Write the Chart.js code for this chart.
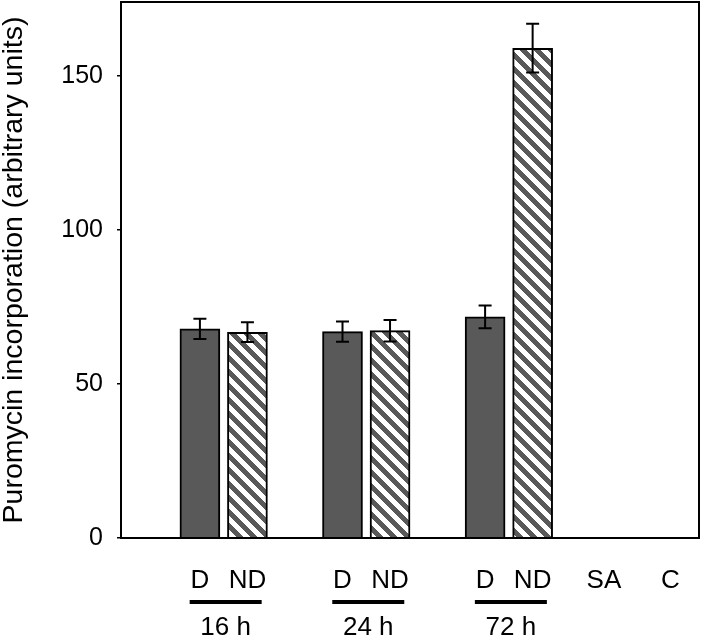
<!DOCTYPE html>
<html>
<head>
<meta charset="utf-8">
<script src="https://cdn.jsdelivr.net/npm/chart.js@4.4.1/dist/chart.umd.min.js"></script>
<style>
html, body { margin: 0; padding: 0; background: #fff; }
</style>
</head>
<body>
<canvas id="myChart" width="702" height="638"></canvas>
<script>
var labels = ["D", "ND", "D", "ND", "D", "ND", "SA", "C"];
var groups = ["16 h", "24 h", "72 h"];
var means = [67.9, 66.8, 67.0, 67.3, 71.8, 159.0, null, null];
var errors = [3.3, 3.2, 3.3, 3.5, 3.7, 7.9, null, null];
var yTicks = [0, 50, 100, 150];

// where each column sits along the x axis (layout only)
var slots = [2, 3, 5, 6, 8, 9, 10.5, 11.9];

var FONT = "'Liberation Sans', Arial, sans-serif";
var GREY = "#595959";

var canvas = document.getElementById("myChart");
var ctx = canvas.getContext("2d");

// diagonal hatch for the ND bars
function hatch() {
    var n = 14;
    var c = document.createElement("canvas");
    c.width = n; c.height = n;
    var g = c.getContext("2d");
    g.fillStyle = "#fff";
    g.fillRect(0, 0, n, n);
    g.fillStyle = GREY;
    for (var i = 0; i < n; i++) {
        for (var j = 0; j < n; j++) {
            if ((((j - i) % n) + n) % n < n / 2) g.fillRect(i, j, 1, 1);
        }
    }
    return ctx.createPattern(c, "repeat");
}
var stripes = hatch();

var points = [];
var fills = [];
for (var i = 0; i < labels.length; i++) {
    if (means[i] === null) continue;
    points.push({ x: slots[i], y: means[i] });
    fills.push(labels[i] === "D" ? GREY : stripes);
}

var errorBars = {
    id: "errorBars",
    afterDatasetsDraw: function (chart) {
        var y = chart.scales.y;
        var c = chart.ctx;
        var bars = chart.getDatasetMeta(0).data;
        var k = 0;
        c.save();
        c.strokeStyle = "#000";
        c.lineWidth = 2;
        for (var i = 0; i < labels.length; i++) {
            if (means[i] === null) continue;
            var x = bars[k++].x;
            var hi = y.getPixelForValue(means[i] + errors[i]);
            var lo = y.getPixelForValue(means[i] - errors[i]);
            c.beginPath();
            c.moveTo(x, hi); c.lineTo(x, lo);
            c.moveTo(x - 6.5, hi); c.lineTo(x + 6.5, hi);
            c.moveTo(x - 6.5, lo); c.lineTo(x + 6.5, lo);
            c.stroke();
        }
        c.restore();
    }
};

var frame = {
    id: "frame",
    afterDraw: function (chart) {
        var a = chart.chartArea;
        var xs = chart.scales.x;
        var c = chart.ctx;
        c.save();
        c.strokeStyle = "#000";
        c.lineWidth = 2;
        c.strokeRect(a.left, a.top, a.right - a.left, a.bottom - a.top);

        // group underlines and time labels
        c.fillStyle = "#000";
        c.font = "26px " + FONT;
        c.textAlign = "center";
        c.textBaseline = "middle";
        for (var g = 0; g < groups.length; g++) {
            var x1 = xs.getPixelForValue(slots[g * 2]);
            var x2 = xs.getPixelForValue(slots[g * 2 + 1]);
            var mid = (x1 + x2) / 2 + 2;
            c.lineWidth = 4;
            c.beginPath();
            c.moveTo(mid - 36, 602);
            c.lineTo(mid + 36, 602);
            c.stroke();
            c.fillText(groups[g], mid, 628);
        }
        c.restore();
    }
};

new Chart(canvas, {
    type: "bar",
    data: {
        datasets: [{
            data: points,
            backgroundColor: fills,
            borderColor: "#000",
            borderWidth: 2,
            barThickness: 40
        }]
    },
    options: {
        responsive: false,
        animation: false,
        devicePixelRatio: 1,
        layout: { padding: { top: 2, right: 3, left: 0, bottom: 0 } },
        plugins: { legend: { display: false }, tooltip: { enabled: false } },
        scales: {
            x: {
                type: "linear",
                offset: false,
                min: 0.34,
                max: 12.5,
                afterBuildTicks: function (s) {
                    s.ticks = slots.map(function (v) { return { value: v }; });
                },
                afterFit: function (s) {
                    s.height = 100;
                    s.paddingLeft = 0;
                    s.paddingRight = 0;
                },
                ticks: {
                    autoSkip: false,
                    maxRotation: 0,
                    padding: 19,
                    color: "#000",
                    font: { family: FONT, size: 26 },
                    callback: function (v, i) { return labels[i]; }
                },
                grid: { display: false },
                border: { display: false }
            },
            y: {
                min: 0,
                max: 174,
                afterBuildTicks: function (s) {
                    s.ticks = yTicks.map(function (v) { return { value: v }; });
                },
                afterFit: function (s) {
                    s.width = 121;
                    s.paddingTop = 0;
                    s.paddingBottom = 0;
                },
                ticks: {
                    padding: 14,
                    color: "#000",
                    font: { family: FONT, size: 25 }
                },
                grid: { drawOnChartArea: false, tickLength: 4, color: "#000", lineWidth: 1.5 },
                border: { display: false },
                title: {
                    display: true,
                    text: "Puromycin incorporation (arbitrary units)",
                    color: "#000",
                    font: { family: FONT, size: 28.5 },
                    padding: { top: -3, bottom: 0 }
                }
            }
        }
    },
    plugins: [errorBars, frame]
});
</script>
</body>
</html>
